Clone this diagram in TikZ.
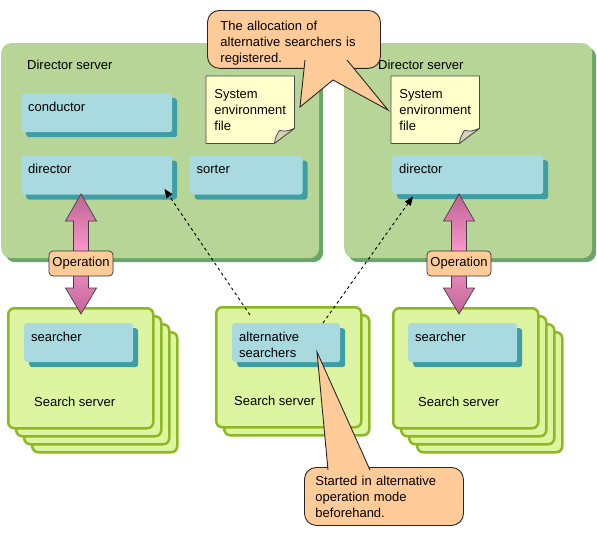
\documentclass[tikz,border=0pt]{standalone}
\usepackage{fontspec}
\setmainfont{Liberation Sans}
\usepackage{tikz}
\usetikzlibrary{positioning,arrows.meta,shadows}
\definecolor{dsgreen}{RGB}{182,213,151}
\definecolor{dsshadow}{RGB}{106,166,106}
\definecolor{procblue}{RGB}{168,218,223}
\definecolor{procshadow}{RGB}{61,158,165}
\definecolor{ssgreen}{RGB}{221,245,161}
\definecolor{ssline}{RGB}{141,184,35}
\definecolor{notefill}{RGB}{255,255,204}
\definecolor{foldfill}{RGB}{214,211,181}
\definecolor{calloutfill}{RGB}{255,204,153}
\definecolor{oppink}{RGB}{255,153,204}
\definecolor{opdark}{RGB}{190,100,150}
\tikzset{
  dserver/.style={rectangle, rounded corners=10pt, fill=dsgreen, anchor=north west, inner sep=0pt,
    minimum height=215pt, copy shadow={shadow xshift=4pt, shadow yshift=-4pt, fill=dsshadow, draw=none}},
  dslbl/.style={anchor=base west, inner sep=0pt, yshift=-26pt},
  proc/.style={rectangle, rounded corners=3pt, fill=procblue, anchor=north west, inner sep=0pt,
    minimum height=39pt, copy shadow={shadow xshift=5pt, shadow yshift=-5pt, fill=procshadow, draw=none}},
  proclbl/.style={anchor=base west, inner sep=0pt, xshift=7pt, yshift=-18pt, align=left},
  sserver/.style={rectangle, rounded corners=6pt, draw=ssline, line width=2.5pt, fill=ssgreen,
    anchor=north west, inner sep=0pt, minimum width=145pt, minimum height=120pt},
  sstack/.style={copy shadow={shadow xshift=#1, shadow yshift=-#1, fill=ssgreen, draw=ssline, line width=2.5pt}},
  sslbl/.style={anchor=base west, inner sep=0pt, yshift=-99pt},
  notearea/.style={rectangle, anchor=north west, inner sep=0pt, minimum width=88pt, minimum height=67pt},
  notebox/.style={fill=notefill, draw=black!70, line width=0.8pt, line join=round},
  fold/.style={fill=foldfill, draw=black!70, line width=0.8pt, line join=round},
  notetxt/.style={align=left, inner sep=0pt},
  oparrow/.style={draw=black!75, line width=0.7pt, top color=opdark, bottom color=opdark, middle color=oppink},
  oplbl/.style={rectangle, rounded corners=4pt, fill=calloutfill, draw=black!80, line width=0.7pt,
    minimum width=64pt, minimum height=25pt, inner sep=1pt},
  relay/.style={dash pattern=on 3pt off 3pt, line width=0.9pt, -{Triangle[length=9pt,width=7pt]}},
  callout/.style={rectangle, rounded corners=12pt, fill=calloutfill, draw=black!85, line width=0.9pt,
    anchor=north west, align=left},
  callouttail/.style={fill=calloutfill, draw=black!85, line width=0.9pt, line join=miter}
}

\begin{document}
\begin{tikzpicture}[x=1pt, y=-1pt, every node/.style={font=\fontsize{13}{16}\selectfont}]
  \useasboundingbox (0,0) rectangle (597,538);

  % director servers
  \node[dserver, minimum width=318pt, label={[dslbl, xshift=26pt]north west:Director server}] (dsL) at (1,43) {};
  \node[dserver, minimum width=248pt, label={[dslbl, xshift=34pt]north west:Director server}] (dsR) at (344,43) {};

  % system environment files
  \foreach \nm/\x in {envL/206, envR/391} {
    \node[notearea] (\nm) at (\x,76) {};
    \draw[notebox] (\nm.north west) -- (\nm.north east) -- ([yshift=15pt]\nm.south east)
      -- ([xshift=-20pt]\nm.south east) -- (\nm.south west) -- cycle;
    \draw[fold] ([xshift=-20pt]\nm.south east) .. controls +(1,-6) .. ([shift={(-15,-13)}]\nm.south east)
      .. controls +(7,1) .. ([yshift=15pt]\nm.south east) -- cycle;
    \node[notetxt] at (\nm.center) {System\\environment\\file};
  }

  % processes in the director servers
  \node[proc, minimum width=151pt, label={[proclbl]north west:conductor}] (condL) at (21,93) {};
  \node[proc, minimum width=151pt, below=23pt of condL, label={[proclbl]north west:director}] (dirL) {};
  \node[proc, minimum width=113pt, right=17pt of dirL, label={[proclbl]north west:sorter}] (sortL) {};
  \node[proc, minimum width=151pt, label={[proclbl]north west:director}] (dirR) at (392,155) {};

  % search servers
  \node[sserver, sstack=24pt, sstack=16pt, sstack=8pt,
        label={[sslbl, xshift=27pt]north west:Search server}] (ssL) at (7,307) {};
  \node[sserver, sstack=8pt,
        label={[sslbl, xshift=19pt]north west:Search server}] (ssM) at (215,306) {};
  \node[sserver, sstack=24pt, sstack=16pt, sstack=8pt,
        label={[sslbl, xshift=26pt]north west:Search server}] (ssR) at (392,307) {};

  \node[proc, minimum width=109pt, label={[proclbl]north west:searcher}] (srchL) at (24,323) {};
  \node[proc, minimum width=108pt, label={[proclbl, yshift=-16pt]north west:alternative\\searchers}] (altM) at (232,323) {};
  \node[proc, minimum width=109pt, label={[proclbl]north west:searcher}] (srchR) at (408,323) {};

  % operation arrows
  \foreach \x/\s in {81/L, 459/R} {
    \draw[oparrow] (\x,194) -- (\x+15.5,221) -- (\x+7.5,221) -- (\x+7.5,288) -- (\x+15.5,288)
      -- (\x,314) -- (\x-15.5,288) -- (\x-7.5,288) -- (\x-7.5,221) -- (\x-15.5,221) -- cycle;
    \node[oplbl] (op\s) at (\x,263.5) {Operation};
  }

  % alternative searchers registered in the directors
  \draw[relay] ([shift={(18,-8)}]altM.north west) -- ([shift={(-8,-6)}]dirL.south east);
  \draw[relay] ([xshift=91pt]altM.north west) -- ([shift={(21,2)}]dirR.south west);

  % callouts
  \node[callout, text width=147pt, inner xsep=13pt, minimum height=53pt] (calTop) at (207,10)
    {\rule{0pt}{16.5pt}The allocation of\\alternative searchers is\\registered.};
  \filldraw[callouttail] (305,60) -- (300,107) -- (333,80) -- (388,110) -- (347,60);
  \node[callout, text width=137pt, inner xsep=11pt, minimum height=58pt] (calBot) at (304,467)
    {Started in alternative\\operation mode\\beforehand.};
  \filldraw[callouttail] (328,470) -- (317,352) -- (370,470);
\end{tikzpicture}
\end{document}
